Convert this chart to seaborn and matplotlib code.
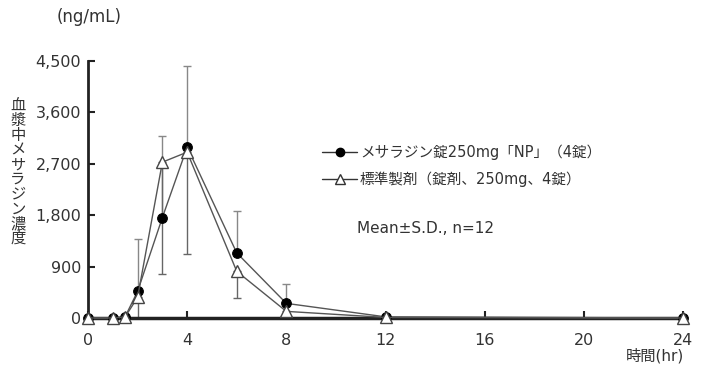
import matplotlib
matplotlib.use('Agg')
import matplotlib.pyplot as plt
import seaborn as sns
import pandas as pd
from matplotlib.lines import Line2D
from matplotlib.ticker import FuncFormatter

# ---- data ----
time_hr = [0, 1, 1.5, 2, 3, 4, 6, 8, 12, 24]
test_mean = [0, 0, 25, 466, 1759, 2992, 1140, 256, 20, 0]
test_sd = [0, 0, 20, 925, 1433, 1415, 736, 340, 25, 0]
ref_mean = [0, 0, 20, 362, 2729, 2904, 817, 116, 10, 0]
ref_sd = [0, 0, 15, 420, 1957, 1782, 466, 150, 10, 0]
y_ticks = [0, 900, 1800, 2700, 3600, 4500]
x_ticks = [0, 4, 8, 12, 16, 20, 24]
series_labels = ["メサラジン錠250mg「NP」（4錠）", "標準製剤（錠剤、250mg、4錠）"]
ylabel_text = "血漿中メサラジン濃度"
unit_text = "(ng/mL)"
xlabel_text = "時間(hr)"
note_text = "Mean±S.D., n=12"

sns.set_style("ticks")
FONT = ['DejaVu Sans', 'Noto Sans CJK JP']
plt.rcParams['font.family'] = FONT
TXT = '#333333'

df_test = pd.DataFrame({"time": time_hr, "conc": test_mean})
df_ref = pd.DataFrame({"time": time_hr, "conc": ref_mean})

fig = plt.figure(figsize=(7.14, 3.71), dpi=100)
ax = fig.add_axes([88/714, 1-318/371, (683-88)/714, (318-61)/371])

# error bars: test upward, reference downward
ax.errorbar(time_hr, test_mean, yerr=[[0]*len(test_sd), test_sd], fmt='none',
            ecolor='#888888', elinewidth=1, capsize=3, capthick=1, zorder=1)
ref_low = [min(s, m) for s, m in zip(ref_sd, ref_mean)]
ax.errorbar(time_hr, ref_mean, yerr=[ref_low, [0]*len(ref_sd)], fmt='none',
            ecolor='#666666', elinewidth=1, capsize=3, capthick=1, zorder=1)

sns.lineplot(data=df_test, x="time", y="conc", ax=ax, color='#555555', lw=1,
             marker='o', markersize=7, markerfacecolor='black', markeredgecolor='black',
             clip_on=False, zorder=3)
sns.lineplot(data=df_ref, x="time", y="conc", ax=ax, color='#555555', lw=1,
             marker='^', markersize=8, markerfacecolor='white', markeredgecolor='#444444',
             markeredgewidth=1, clip_on=False, zorder=4)

ax.set_xlim(0, 24)
ax.set_ylim(0, 4500)
ax.set_xticks(x_ticks)
ax.set_yticks(y_ticks)
ax.yaxis.set_major_formatter(FuncFormatter(lambda v, p: f"{int(v):,}"))
ax.set_xlabel("")
ax.set_ylabel("")
for s in ['top', 'right']:
    ax.spines[s].set_visible(False)
ax.spines['left'].set_linewidth(2)
ax.spines['bottom'].set_linewidth(2.5)
ax.spines['left'].set_color('#222222')
ax.spines['bottom'].set_color('#222222')
ax.tick_params(axis='both', direction='in', length=5, width=1.5, colors='#222222',
               labelsize=11.5, labelcolor=TXT)
ax.tick_params(axis='y', pad=5)
ax.tick_params(axis='x', pad=11)

# legend
h1 = Line2D([], [], color='#333333', lw=1, marker='o', markersize=6,
            markerfacecolor='black', markeredgecolor='black')
h2 = Line2D([], [], color='#333333', lw=1, marker='^', markersize=7,
            markerfacecolor='white', markeredgecolor='#333333')
leg = ax.legend([h1, h2], series_labels, loc='upper left',
                bbox_to_anchor=(322/714, 1-145/371), bbox_transform=fig.transFigure,
                frameon=False, handlelength=2.4, handletextpad=0.2, labelspacing=0.75,
                borderpad=0, borderaxespad=0, fontsize=10.5)
for t in leg.get_texts():
    t.set_color(TXT)

fig.text(357/714, 1-228/371, note_text, fontsize=11, color=TXT, va='center', ha='left')
fig.text(57/714, 1-17/371, unit_text, fontsize=12, color=TXT, va='center', ha='left')
fig.text(684/714, 1-356/371, xlabel_text, fontsize=11, color=TXT, va='center', ha='right')
fig.text(18/714, 1-172/371, "\n".join(ylabel_text), fontsize=11, color=TXT,
         va='center', ha='center', linespacing=0.98)

fig.savefig("out.png", dpi=100)
